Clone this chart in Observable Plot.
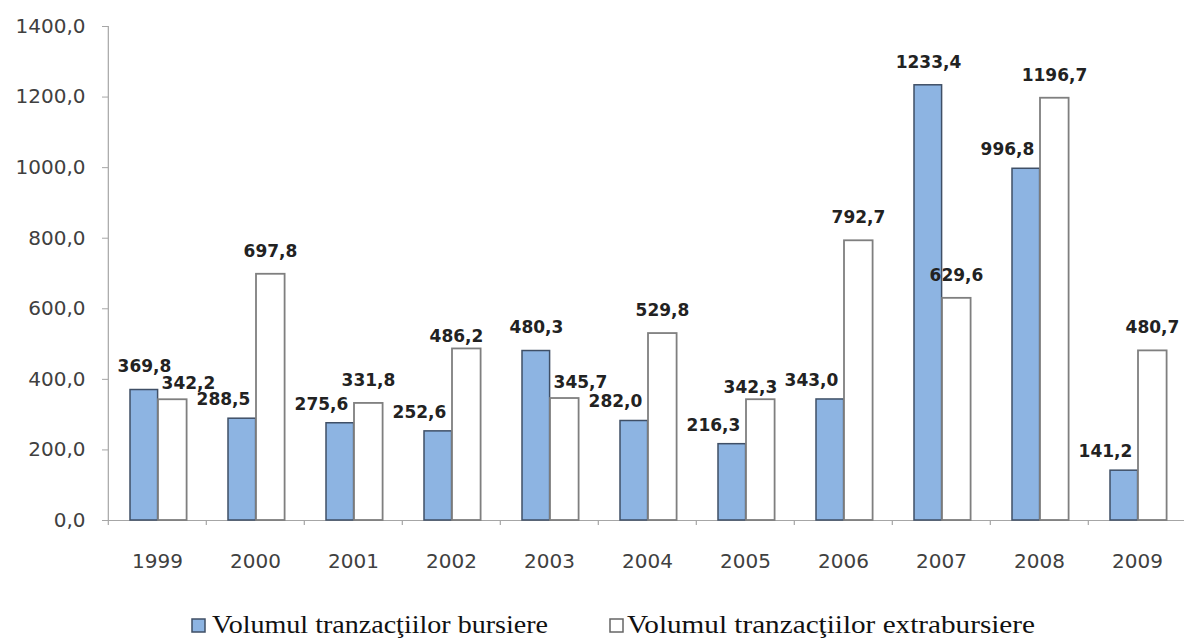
<!DOCTYPE html>
<html>
<head>
<meta charset="utf-8">
<script src="https://cdn.jsdelivr.net/npm/d3@7"></script>
<script src="https://cdn.jsdelivr.net/npm/@observablehq/plot@0.6"></script>
<style>
  html, body { margin: 0; padding: 0; background: #fff; }
  #chart svg { display: block; }
</style>
</head>
<body>
<div id="chart"></div>
<script>
const years = ["1999", "2000", "2001", "2002", "2003", "2004", "2005", "2006", "2007", "2008", "2009"];
const bursiere = [369.8, 288.5, 275.6, 252.6, 480.3, 282.0, 216.3, 343.0, 1233.4, 996.8, 141.2];
const extrabursiere = [342.2, 697.8, 331.8, 486.2, 345.7, 529.8, 342.3, 792.7, 629.6, 1196.7, 480.7];
const yTicks = [0, 200, 400, 600, 800, 1000, 1200, 1400];
const seriesNames = ["Volumul tranzacţiilor bursiere", "Volumul tranzacţiilor extrabursiere"];

const rows = years.map((year, i) => ({
  year, b: bursiere[i], e: extrabursiere[i],
  nextB: i + 1 < years.length ? bursiere[i + 1] : null
}));
const fmt = v => v.toFixed(1).replace(".", ",");

const blueFill = "#8db4e2", blueStroke = "#3f4f66";
const whiteStroke = "#7f7f7f";
const axisGrey = "#a6a6a6";
const half = (1190 - 108) / years.length / 2;

// label placement rules derived from the values (avoid collisions like the reference)
const whiteNearBlue = d => d.b > d.e && d.b - d.e < 200;          // white label pushed right
const whiteNearNext = d => d.nextB != null && Math.abs(d.e - d.nextB) < 30 && !whiteNearBlue(d); // pushed left
const whitePlain = d => !whiteNearBlue(d) && !whiteNearNext(d);

const labelStyle = {fontSize: 17, fontWeight: "bold", fill: "#222"};

const plot = Plot.plot({
  width: 1184,
  height: 590,
  marginLeft: 108,
  marginRight: 0,
  marginTop: 26,
  marginBottom: 70,
  style: {fontFamily: "DejaVu Sans", background: "#fff", overflow: "visible"},
  x: {domain: years, range: [108, 1190], padding: 0, align: 0, label: null},
  y: {domain: [0, 1400], range: [520, 26], label: null},
  marks: [
    Plot.ruleY([0], {stroke: axisGrey, strokeWidth: 1.2}),
    Plot.ruleX([years[0]], {dx: -half, y1: -14, y2: 1400, stroke: axisGrey, strokeWidth: 1.2}),
    Plot.ruleX(years.slice(1), {x: d => d, dx: -half, y1: 0, y2: -14, stroke: axisGrey, strokeWidth: 1.2}),
    Plot.barY(rows, {x: "year", y: "b", fill: blueFill, stroke: blueStroke, strokeWidth: 1.5, insetLeft: 22, insetRight: 48.4}),
    Plot.barY(rows, {x: "year", y: "e", fill: "#fff", stroke: whiteStroke, strokeWidth: 1.8, insetLeft: 50, insetRight: 19.4}),
    Plot.text(rows, {filter: d => d.e > d.b, x: "year", y: "b", text: d => fmt(d.b), dx: -32, dy: -19, ...labelStyle}),
    Plot.text(rows, {filter: d => d.e <= d.b, x: "year", y: "b", text: d => fmt(d.b), dx: -13, dy: -23, ...labelStyle}),
    Plot.text(rows, {filter: whitePlain, x: "year", y: "e", text: d => fmt(d.e), dx: 15, dy: -23, ...labelStyle}),
    Plot.text(rows, {filter: whiteNearBlue, x: "year", y: "e", text: d => fmt(d.e), dx: 31, dy: -16, ...labelStyle}),
    Plot.text(rows, {filter: whiteNearNext, x: "year", y: "e", text: d => fmt(d.e), dx: 5, dy: -12, ...labelStyle}),
    Plot.axisY({ticks: yTicks, tickFormat: fmt, tickSize: 6, tickPadding: 17, fontSize: 20, fill: "#404040", stroke: axisGrey, label: null}),
    Plot.axisX({tickSize: 0, tickPadding: 33, fontSize: 20, fill: "#404040", label: null})
  ]
});
document.getElementById("chart").appendChild(plot);

// legend below the chart
const legendItems = [
  {name: seriesNames[0], fill: blueFill, stroke: blueStroke, sx: 192, tx: 212, tl: 336},
  {name: seriesNames[1], fill: "#fff", stroke: "#666", sx: 610, tx: 627, tl: 408}
];
const leg = d3.create("svg").attr("width", 1184).attr("height", 48).style("display", "block");
for (const it of legendItems) {
  leg.append("rect").attr("x", it.sx).attr("y", 29).attr("width", 13).attr("height", 13)
    .attr("fill", it.fill).attr("stroke", it.stroke).attr("stroke-width", 1.5);
  leg.append("text").attr("x", it.tx).attr("y", 43)
    .attr("font-family", "Liberation Serif").attr("font-size", 26).attr("fill", "#111")
    .attr("textLength", it.tl).attr("lengthAdjust", "spacingAndGlyphs")
    .text(it.name);
}
document.getElementById("chart").appendChild(leg.node());
</script>
</body>
</html>
